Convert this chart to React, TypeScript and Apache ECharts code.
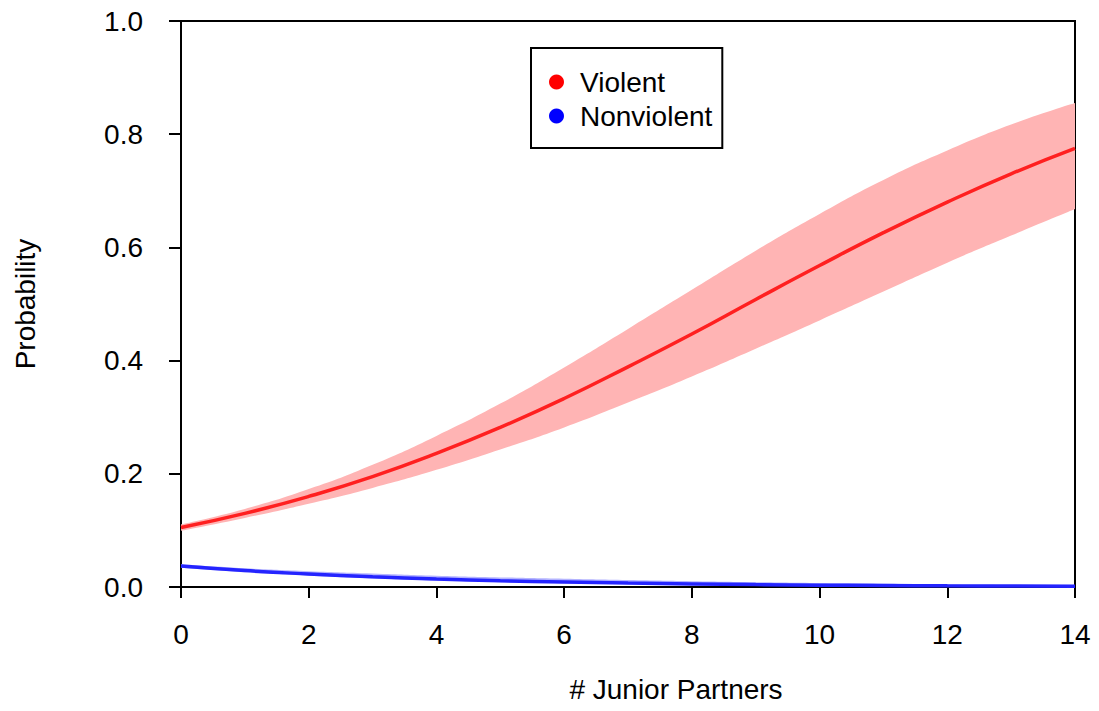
import React, { useEffect, useRef } from "react";
import * as echarts from "echarts";

const juniorPartners = [0, 1, 2, 3, 4, 5, 6, 7, 8, 9, 10, 11, 12, 13, 14];

const violentMean = [0.105, 0.130, 0.160, 0.195, 0.236, 0.282, 0.333, 0.389, 0.447, 0.508, 0.568, 0.626, 0.680, 0.730, 0.775];
const violentLower = [0.0995, 0.122, 0.147, 0.175, 0.207, 0.243, 0.282, 0.326, 0.372, 0.421, 0.471, 0.522, 0.573, 0.621, 0.668];
const violentUpper = [0.1107, 0.138, 0.173, 0.216, 0.267, 0.324, 0.388, 0.456, 0.525, 0.594, 0.659, 0.719, 0.771, 0.817, 0.855];

const nonviolentMean = [0.037, 0.029, 0.023, 0.018, 0.014, 0.011, 0.0088, 0.0069, 0.0054, 0.0042, 0.0033, 0.0026, 0.0020, 0.0016, 0.0012];
const nonviolentLower = [0.034, 0.026, 0.020, 0.015, 0.0113, 0.0085, 0.0065, 0.0049, 0.0037, 0.0028, 0.0021, 0.0016, 0.0012, 0.0009, 0.0006];
const nonviolentUpper = [0.040, 0.033, 0.028, 0.024, 0.020, 0.017, 0.0145, 0.0122, 0.0102, 0.0085, 0.007, 0.0057, 0.0046, 0.0037, 0.003];

const xLabelEvery = 1; // show every other category: 0, 2, 4, ... 14
const yTicks = { min: 0, max: 1, interval: 0.2 };

const FONT = "'Liberation Sans', Arial, Helvetica, sans-serif";

function diff(up: number[], lo: number[]) {
  return up.map((u, i) => u - lo[i]);
}

export default function App() {
  const ref = useRef<HTMLDivElement>(null);
  useEffect(() => {
    if (!ref.current) return;
    const chart = echarts.init(ref.current, null, { renderer: "svg" });
    const hidden = { opacity: 0, width: 0 };
    chart.setOption({
      animation: false,
      backgroundColor: "#ffffff",
      textStyle: { fontFamily: FONT },
      grid: {
        left: 181,
        right: 24,
        top: 21,
        bottom: 124,
        show: true,
        borderColor: "#000",
        borderWidth: 2,
        backgroundColor: "transparent",
      },
      legend: {
        orient: "vertical",
        left: 531,
        top: 48,
        padding: [20, 10, 18, 18],
        itemGap: 6,
        itemWidth: 37,
        itemHeight: 15,
        icon: "circle",
        borderColor: "#000",
        borderWidth: 2,
        backgroundColor: "#fff",
        textStyle: { fontSize: 28, color: "#000", fontFamily: FONT, lineHeight: 28 },
        data: [
          { name: "Violent", itemStyle: { color: "#ff0000" } },
          { name: "Nonviolent", itemStyle: { color: "#0000ff" } },
        ],
      },
      xAxis: {
        type: "category",
        data: juniorPartners.map(String),
        boundaryGap: false,
        name: "# Junior Partners",
        nameLocation: "middle",
        nameGap: 88,
        nameTextStyle: {
          fontSize: 28,
          color: "#000",
          fontFamily: FONT,
          lineHeight: 28,
          padding: [0, 0, 0, 96],
        },
        axisLine: { show: true, onZero: false, lineStyle: { color: "#000", width: 2 } },
        axisTick: {
          show: true,
          inside: false,
          length: 11,
          interval: xLabelEvery,
          alignWithLabel: true,
          lineStyle: { color: "#000", width: 2 },
        },
        axisLabel: {
          fontSize: 28,
          color: "#000",
          margin: 33,
          fontFamily: FONT,
          lineHeight: 28,
          interval: xLabelEvery,
        },
        splitLine: { show: false },
      },
      yAxis: {
        type: "value",
        min: yTicks.min,
        max: yTicks.max,
        interval: yTicks.interval,
        name: "Probability",
        nameLocation: "middle",
        nameGap: 142,
        nameRotate: 90,
        nameTextStyle: { fontSize: 28, color: "#000", fontFamily: FONT, lineHeight: 28 },
        axisLine: { show: true, onZero: false, lineStyle: { color: "#000", width: 2 } },
        axisTick: { show: true, inside: false, length: 12, lineStyle: { color: "#000", width: 2 } },
        axisLabel: {
          fontSize: 28,
          color: "#000",
          margin: 38,
          fontFamily: FONT,
          formatter: (v: number) => v.toFixed(1),
        },
        splitLine: { show: false },
      },
      series: [
        {
          name: "nvLow",
          type: "line",
          stack: "nv",
          data: nonviolentLower,
          smooth: true,
          symbol: "none",
          lineStyle: hidden,
          silent: true,
          z: 1,
        },
        {
          name: "nvBand",
          type: "line",
          stack: "nv",
          data: diff(nonviolentUpper, nonviolentLower),
          smooth: true,
          symbol: "none",
          lineStyle: hidden,
          areaStyle: { color: "#b4b4ff", opacity: 1 },
          silent: true,
          z: 1,
        },
        {
          name: "vLow",
          type: "line",
          stack: "v",
          data: violentLower,
          smooth: true,
          symbol: "none",
          lineStyle: hidden,
          silent: true,
          z: 1,
        },
        {
          name: "vBand",
          type: "line",
          stack: "v",
          data: diff(violentUpper, violentLower),
          smooth: true,
          symbol: "none",
          lineStyle: hidden,
          areaStyle: { color: "#ffb4b4", opacity: 1 },
          silent: true,
          z: 1,
        },
        {
          name: "Nonviolent",
          type: "line",
          data: nonviolentMean,
          smooth: true,
          symbol: "none",
          color: "#0000ff",
          lineStyle: { color: "#2424ff", width: 3.5 },
          z: 3,
        },
        {
          name: "Violent",
          type: "line",
          data: violentMean,
          smooth: true,
          symbol: "none",
          color: "#ff0000",
          lineStyle: { color: "#ff2020", width: 3.5 },
          z: 3,
        },
      ],
    });
    return () => chart.dispose();
  }, []);
  return (
    <div
      ref={ref}
      style={{ position: "fixed", left: 0, top: 0, width: 1099, height: 711, background: "#fff" }}
    />
  );
}
